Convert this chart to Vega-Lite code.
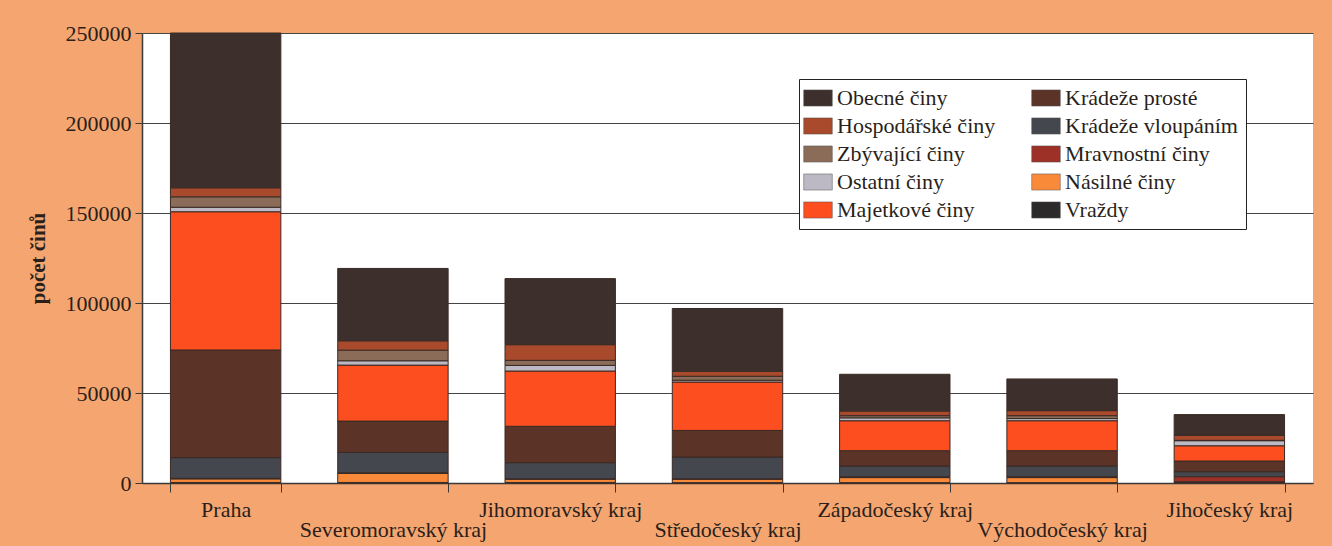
{
  "$schema": "https://vega.github.io/schema/vega-lite/v6.json",
  "width": 1171,
  "height": 450,
  "autosize": {"type": "none"},
  "padding": {"left": 142, "top": 33, "right": 19, "bottom": 63},
  "background": "#f5a570",
  "config": {
    "view": {"fill": "white", "stroke": null},
    "font": "Liberation Serif"
  },
  "data": {
    "values": [
      {"kraj": "Praha", "druh": "Vraždy", "pocet": 300},
      {"kraj": "Praha", "druh": "Násilné činy", "pocet": 2000},
      {"kraj": "Praha", "druh": "Mravnostní činy", "pocet": 300},
      {"kraj": "Praha", "druh": "Krádeže vloupáním", "pocet": 11500},
      {"kraj": "Praha", "druh": "Krádeže prosté", "pocet": 59800},
      {"kraj": "Praha", "druh": "Majetkové činy", "pocet": 76800},
      {"kraj": "Praha", "druh": "Ostatní činy", "pocet": 2500},
      {"kraj": "Praha", "druh": "Zbývající činy", "pocet": 5800},
      {"kraj": "Praha", "druh": "Hospodářské činy", "pocet": 5000},
      {"kraj": "Praha", "druh": "Obecné činy", "pocet": 86000},

      {"kraj": "Severomoravský kraj", "druh": "Vraždy", "pocet": 300},
      {"kraj": "Severomoravský kraj", "druh": "Násilné činy", "pocet": 5000},
      {"kraj": "Severomoravský kraj", "druh": "Mravnostní činy", "pocet": 400},
      {"kraj": "Severomoravský kraj", "druh": "Krádeže vloupáním", "pocet": 11300},
      {"kraj": "Severomoravský kraj", "druh": "Krádeže prosté", "pocet": 17400},
      {"kraj": "Severomoravský kraj", "druh": "Majetkové činy", "pocet": 31100},
      {"kraj": "Severomoravský kraj", "druh": "Ostatní činy", "pocet": 2400},
      {"kraj": "Severomoravský kraj", "druh": "Zbývající činy", "pocet": 5900},
      {"kraj": "Severomoravský kraj", "druh": "Hospodářské činy", "pocet": 5200},
      {"kraj": "Severomoravský kraj", "druh": "Obecné činy", "pocet": 40200},

      {"kraj": "Jihomoravský kraj", "druh": "Vraždy", "pocet": 300},
      {"kraj": "Jihomoravský kraj", "druh": "Násilné činy", "pocet": 1800},
      {"kraj": "Jihomoravský kraj", "druh": "Mravnostní činy", "pocet": 300},
      {"kraj": "Jihomoravský kraj", "druh": "Krádeže vloupáním", "pocet": 8900},
      {"kraj": "Jihomoravský kraj", "druh": "Krádeže prosté", "pocet": 20200},
      {"kraj": "Jihomoravský kraj", "druh": "Majetkové činy", "pocet": 30700},
      {"kraj": "Jihomoravský kraj", "druh": "Ostatní činy", "pocet": 3150},
      {"kraj": "Jihomoravský kraj", "druh": "Zbývající činy", "pocet": 2800},
      {"kraj": "Jihomoravský kraj", "druh": "Hospodářské činy", "pocet": 8700},
      {"kraj": "Jihomoravský kraj", "druh": "Obecné činy", "pocet": 36700},

      {"kraj": "Středočeský kraj", "druh": "Vraždy", "pocet": 200},
      {"kraj": "Středočeský kraj", "druh": "Násilné činy", "pocet": 1900},
      {"kraj": "Středočeský kraj", "druh": "Mravnostní činy", "pocet": 300},
      {"kraj": "Středočeský kraj", "druh": "Krádeže vloupáním", "pocet": 12000},
      {"kraj": "Středočeský kraj", "druh": "Krádeže prosté", "pocet": 14800},
      {"kraj": "Středočeský kraj", "druh": "Majetkové činy", "pocet": 26900},
      {"kraj": "Středočeský kraj", "druh": "Ostatní činy", "pocet": 1000},
      {"kraj": "Středočeský kraj", "druh": "Zbývající činy", "pocet": 2200},
      {"kraj": "Středočeský kraj", "druh": "Hospodářské činy", "pocet": 2800},
      {"kraj": "Středočeský kraj", "druh": "Obecné činy", "pocet": 34850},

      {"kraj": "Západočeský kraj", "druh": "Vraždy", "pocet": 200},
      {"kraj": "Západočeský kraj", "druh": "Násilné činy", "pocet": 2800},
      {"kraj": "Západočeský kraj", "druh": "Mravnostní činy", "pocet": 500},
      {"kraj": "Západočeský kraj", "druh": "Krádeže vloupáním", "pocet": 5950},
      {"kraj": "Západočeský kraj", "druh": "Krádeže prosté", "pocet": 8500},
      {"kraj": "Západočeský kraj", "druh": "Majetkové činy", "pocet": 16650},
      {"kraj": "Západočeský kraj", "druh": "Ostatní činy", "pocet": 1600},
      {"kraj": "Západočeský kraj", "druh": "Zbývající činy", "pocet": 1200},
      {"kraj": "Západočeský kraj", "druh": "Hospodářské činy", "pocet": 2600},
      {"kraj": "Západočeský kraj", "druh": "Obecné činy", "pocet": 20400},

      {"kraj": "Východočeský kraj", "druh": "Vraždy", "pocet": 200},
      {"kraj": "Východočeský kraj", "druh": "Násilné činy", "pocet": 2800},
      {"kraj": "Východočeský kraj", "druh": "Mravnostní činy", "pocet": 500},
      {"kraj": "Východočeský kraj", "druh": "Krádeže vloupáním", "pocet": 5950},
      {"kraj": "Východočeský kraj", "druh": "Krádeže prosté", "pocet": 8500},
      {"kraj": "Východočeský kraj", "druh": "Majetkové činy", "pocet": 16650},
      {"kraj": "Východočeský kraj", "druh": "Ostatní činy", "pocet": 1200},
      {"kraj": "Východočeský kraj", "druh": "Zbývající činy", "pocet": 1600},
      {"kraj": "Východočeský kraj", "druh": "Hospodářské činy", "pocet": 2800},
      {"kraj": "Východočeský kraj", "druh": "Obecné činy", "pocet": 17600},

      {"kraj": "Jihočeský kraj", "druh": "Vraždy", "pocet": 300},
      {"kraj": "Jihočeský kraj", "druh": "Násilné činy", "pocet": 400},
      {"kraj": "Jihočeský kraj", "druh": "Mravnostní činy", "pocet": 2800},
      {"kraj": "Jihočeský kraj", "druh": "Krádeže vloupáním", "pocet": 2800},
      {"kraj": "Jihočeský kraj", "druh": "Krádeže prosté", "pocet": 5900},
      {"kraj": "Jihočeský kraj", "druh": "Majetkové činy", "pocet": 8500},
      {"kraj": "Jihočeský kraj", "druh": "Ostatní činy", "pocet": 2800},
      {"kraj": "Jihočeský kraj", "druh": "Zbývající činy", "pocet": 200},
      {"kraj": "Jihočeský kraj", "druh": "Hospodářské činy", "pocet": 2800},
      {"kraj": "Jihočeský kraj", "druh": "Obecné činy", "pocet": 11500}
    ]
  },
  "transform": [
    {"calculate": "indexof(['Vraždy','Násilné činy','Mravnostní činy','Krádeže vloupáním','Krádeže prosté','Majetkové činy','Ostatní činy','Zbývající činy','Hospodářské činy','Obecné činy'], datum.druh)", "as": "poradi"}
  ],
  "mark": {"type": "bar", "stroke": "#3a2a25", "strokeWidth": 1},
  "encoding": {
    "x": {
      "field": "kraj",
      "type": "nominal",
      "sort": ["Praha", "Severomoravský kraj", "Jihomoravský kraj", "Středočeský kraj", "Západočeský kraj", "Východočeský kraj", "Jihočeský kraj"],
      "scale": {"paddingInner": 0.34, "paddingOuter": 0.17},
      "axis": {
        "title": null,
        "labelAngle": 0,
        "labelFont": "Liberation Serif",
        "labelFontSize": 22,
        "labelColor": "#2a1f1a",
        "labelOverlap": false,
        "labelLimit": 0,
        "labelBaseline": "top",
        "labelPadding": {
          "condition": {"test": "indexof(['Severomoravský kraj','Středočeský kraj','Východočeský kraj'], datum.value) >= 0", "value": 27},
          "value": 7
        },
        "tickBand": "extent",
        "tickSize": 9,
        "tickColor": "#3a3a3a",
        "domainColor": "#3a3a3a",
        "domainWidth": 1.5,
        "grid": false
      }
    },
    "y": {
      "field": "pocet",
      "type": "quantitative",
      "stack": "zero",
      "scale": {"domain": [0, 250000], "nice": false},
      "axis": {
        "title": "počet činů",
        "titleFont": "Liberation Serif",
        "titleFontSize": 21,
        "titleFontWeight": "bold",
        "titleColor": "#2a1f1a",
        "titlePadding": 17,
        "values": [0, 50000, 100000, 150000, 200000, 250000],
        "format": "d",
        "labelFont": "Liberation Serif",
        "labelFontSize": 22,
        "labelColor": "#2a1f1a",
        "labelPadding": 4,
        "tickSize": 7,
        "tickColor": "#3a3a3a",
        "domainColor": "#3a3a3a",
        "domainWidth": 1.5,
        "grid": true,
        "gridColor": "#444444",
        "gridWidth": 1
      }
    },
    "order": {"field": "poradi", "type": "quantitative", "sort": "ascending"},
    "color": {
      "field": "druh",
      "type": "nominal",
      "scale": {
        "domain": ["Vraždy", "Násilné činy", "Mravnostní činy", "Krádeže vloupáním", "Krádeže prosté", "Majetkové činy", "Ostatní činy", "Zbývající činy", "Hospodářské činy", "Obecné činy"],
        "range": ["#2b2929", "#f98a3a", "#9d3027", "#45474f", "#5b3327", "#fc4e1e", "#bdb9c4", "#8b6c58", "#a84a2b", "#3d302c"]
      },
      "legend": {
        "title": null,
        "orient": "none",
        "legendX": 657,
        "legendY": 46,
        "direction": "vertical",
        "columns": 2,
        "values": ["Obecné činy", "Hospodářské činy", "Zbývající činy", "Ostatní činy", "Majetkové činy", "Krádeže prosté", "Krádeže vloupáním", "Mravnostní činy", "Násilné činy", "Vraždy"],
        "fillColor": "white",
        "strokeColor": "#222222",
        "padding": 8,
        "rowPadding": 6,
        "columnPadding": 34,
        "symbolType": "M-1.6,-0.9H1.6V0.9H-1.6Z",
        "symbolSize": 320,
        "symbolStrokeColor": "#555555",
        "symbolStrokeWidth": 0.5,
        "symbolOpacity": 1,
        "labelFont": "Liberation Serif",
        "labelFontSize": 22,
        "labelColor": "#2a1f1a",
        "labelOffset": 8,
        "labelLimit": 0
      }
    }
  }
}
